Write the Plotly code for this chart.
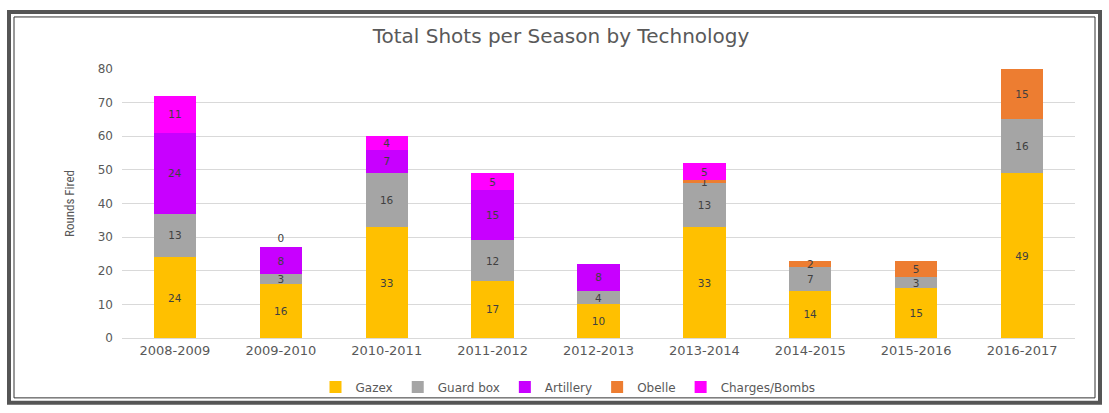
import plotly.graph_objects as go

seasons = ["2008-2009", "2009-2010", "2010-2011", "2011-2012", "2012-2013",
           "2013-2014", "2014-2015", "2015-2016", "2016-2017"]
gazex = [24, 16, 33, 17, 10, 33, 14, 15, 49]
guard_box = [13, 3, 16, 12, 4, 13, 7, 3, 16]
artillery = [24, 8, 7, 15, 8, None, None, None, None]
obelle = [None, None, None, None, None, 1, 2, 5, 15]
charges = [11, 0, 4, 5, None, 5, None, None, None]

series = [
    ("Gazex", gazex, "#FFC000"),
    ("Guard box", guard_box, "#A5A5A5"),
    ("Artillery", artillery, "#C800FF"),
    ("Obelle", obelle, "#ED7D31"),
    ("Charges/Bombs", charges, "#FF00FF"),
]

FONT = "DejaVu Sans, sans-serif"
fig = go.Figure()
for name, vals, color in series:
    txt = ["" if v is None else str(v) for v in vals]
    pos = ["outside" if v == 0 else "inside" for v in vals]
    fig.add_trace(go.Bar(
        x=seasons, y=vals, name=name, marker=dict(color=color, line=dict(width=0)),
        text=txt, textposition=pos, insidetextanchor="middle", textangle=0,
        constraintext="none",
        textfont=dict(color="#404040", size=10.5, family=FONT),
        cliponaxis=False,
    ))

L, R, T, B = 122, 34, 69, 70
W, H = 1109, 413
pw, ph = W - L - R, H - T - B
def px(x):
    return (x - L) / pw
def py(y):
    return (H - B - y) / ph

fig.update_layout(
    barmode="stack",
    bargap=0.6,
    width=W, height=H,
    margin=dict(l=L, r=R, t=T, b=B),
    paper_bgcolor="white",
    plot_bgcolor="white",
    font=dict(family=FONT, color="#595959", size=11),
    uniformtext=dict(mode="show", minsize=10.5),
    title=dict(text="Total Shots per Season by Technology", x=561 / W,
               xanchor="center", y=1 - 36 / H, yanchor="middle",
               font=dict(size=20, color="#595959", family=FONT)),
    legend=dict(orientation="h", x=px(568), xanchor="center", y=py(393), yanchor="middle",
                font=dict(size=12, color="#595959"), traceorder="normal",
                bgcolor="rgba(0,0,0,0)", itemwidth=30),
    xaxis=dict(showgrid=False, showline=True, linecolor="#D9D9D9", ticks="",
               tickfont=dict(size=13, color="#595959")),
    yaxis=dict(range=[0, 80], dtick=10, showgrid=True, gridcolor="#D9D9D9",
               zeroline=False, ticks="", tickfont=dict(size=12, color="#595959"),
               ticklabelstandoff=8,
               title=dict(text="Rounds Fired", font=dict(size=13, color="#595959",
                                                          family="Liberation Sans Narrow, Roboto Condensed, sans-serif"),
                          standoff=20)),
    shapes=[
        dict(type="rect", xref="paper", yref="paper",
             x0=px(9), x1=px(1100), y0=py(409), y1=py(11),
             line=dict(color="#555555", width=4), layer="above"),
        dict(type="rect", xref="paper", yref="paper",
             x0=px(14), x1=px(1095), y0=py(404), y1=py(16),
             line=dict(color="#333333", width=1), layer="above"),
    ],
)

fig.write_html("out.html", config={"displayModeBar": False},
               post_script="document.body.style.margin='0';document.body.style.overflow='hidden';")
